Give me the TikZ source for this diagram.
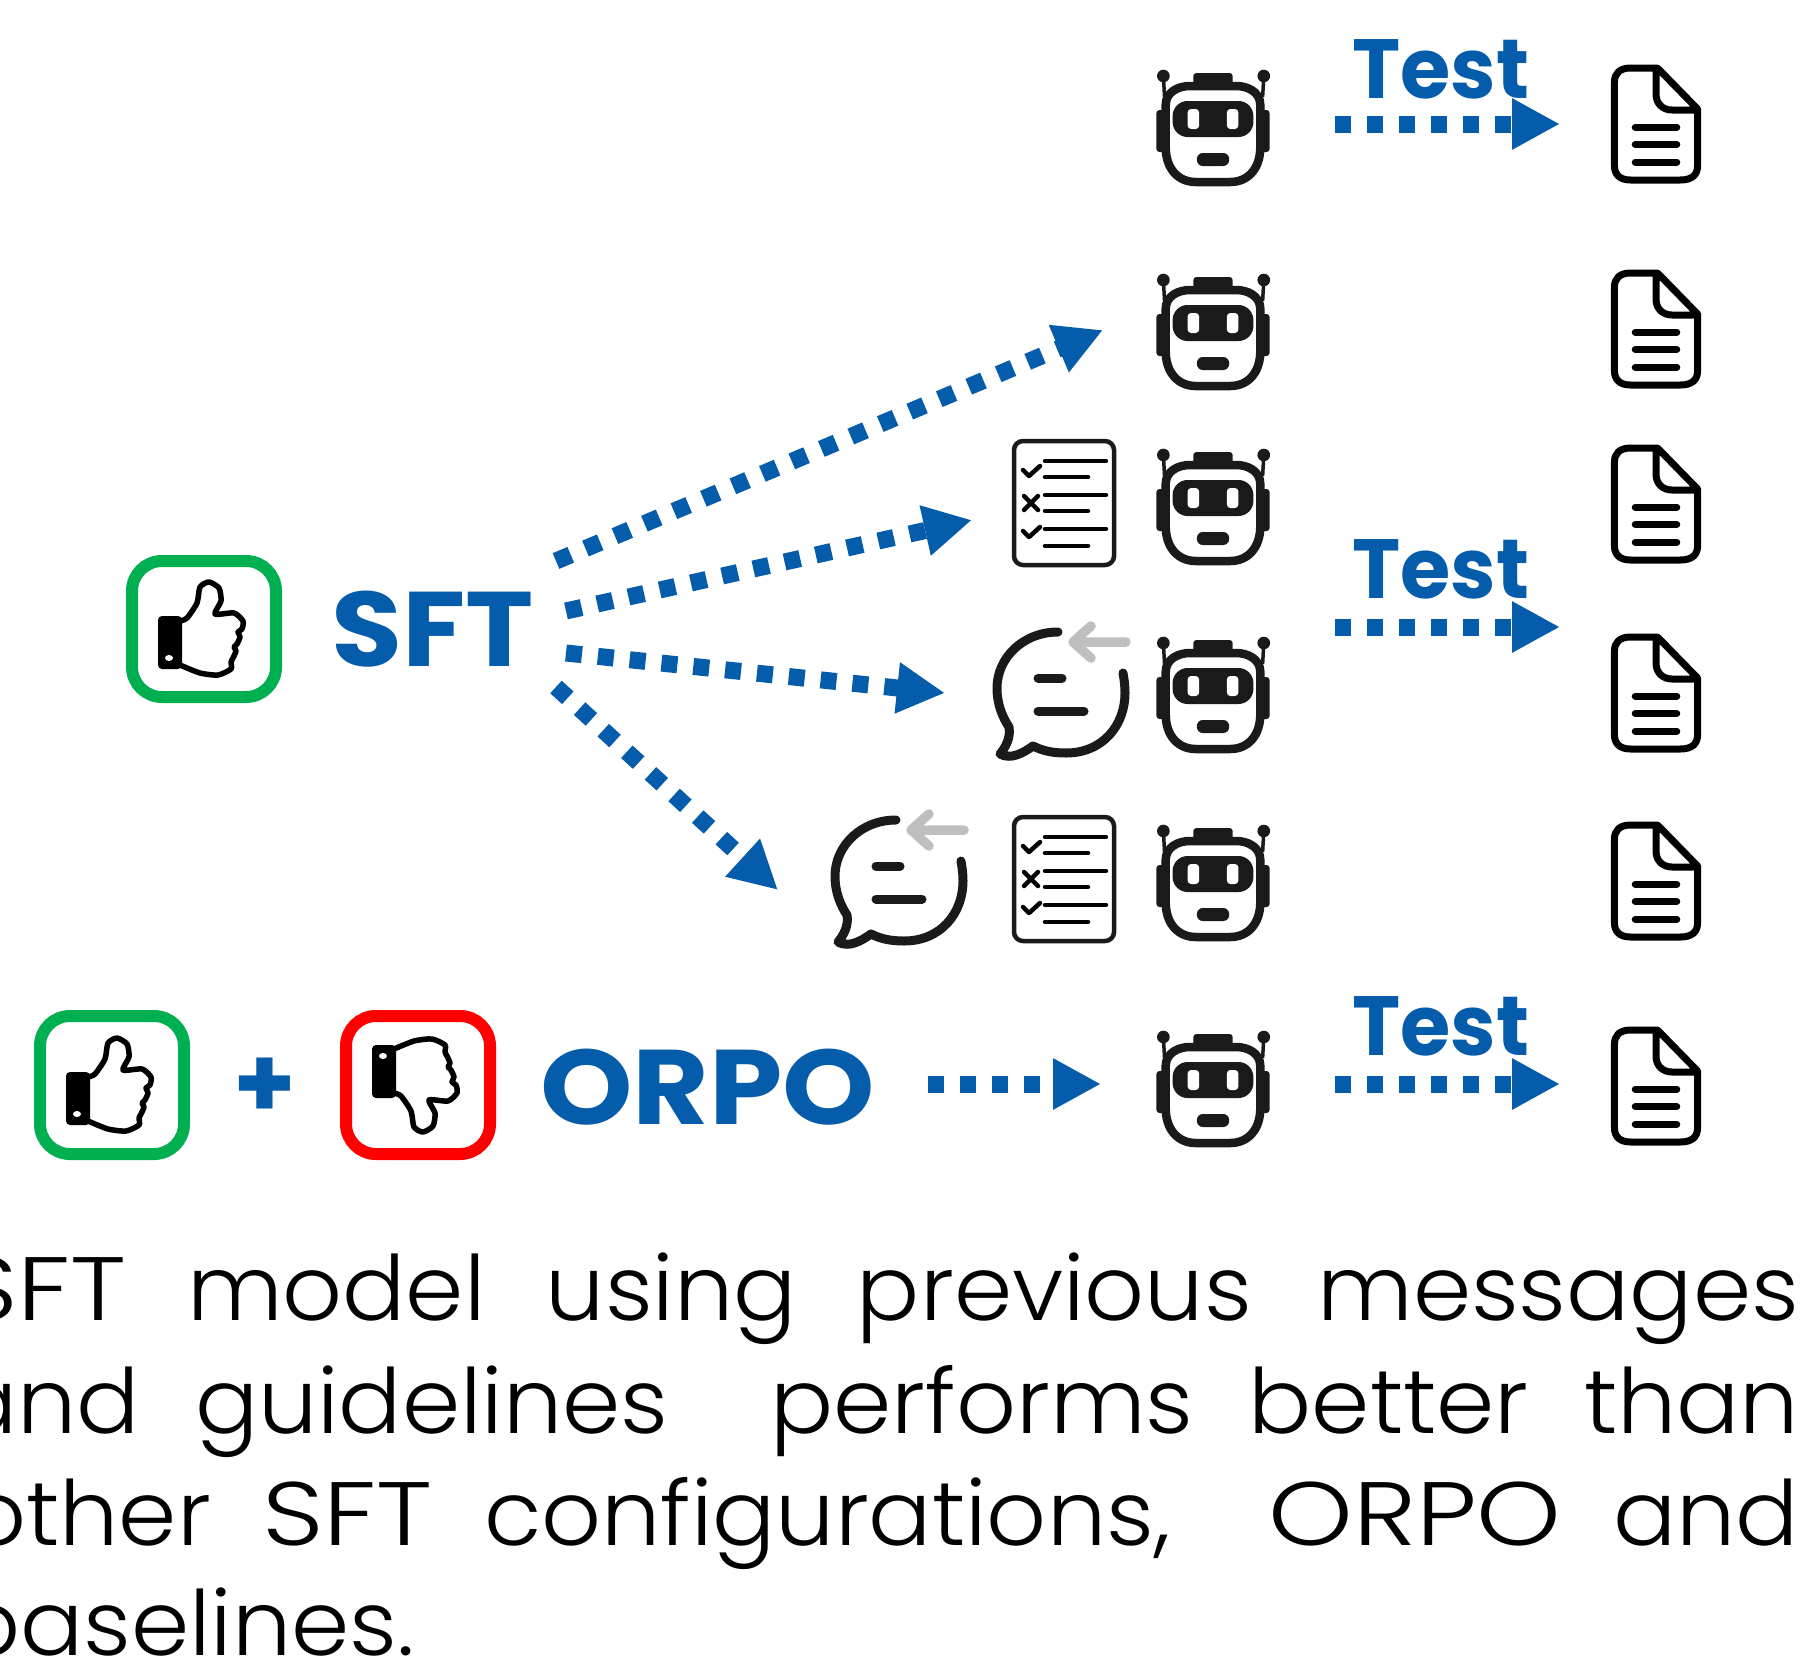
\documentclass[tikz,border=0pt]{standalone}
\usepackage{fontspec}
\usepackage{graphicx}
\usetikzlibrary{arrows.meta}
\setmainfont{Poppins}
\newfontfamily\capfont{Poppins Light}
\newfontfamily\boldfont{Poppins Bold}
\definecolor{blu}{HTML}{045CAB}
\definecolor{ink}{HTML}{1A1A1A}
\definecolor{grn}{HTML}{00B050}
\definecolor{gry}{HTML}{BFBFBF}
\newcommand{\wide}[1]{\scalebox{1.15}[1]{#1}}
\newcommand{\thumbbody}{%
  \fill[black,rounded corners=4pt] (-46,-13) rectangle (-22,40);
  \fill[white] (-35,29) ellipse [x radius=4,y radius=3];
  \draw[black,line width=5.5pt,line join=round] plot[smooth,tension=.4] coordinates {(-24,-8) (-17,-11) (-7,-26) (-4,-42) (5,-47) (15,-41) (17,-28) (11,-15) (30,-16) (39,-8) (38,0) (34,3) (36,8) (33,15) (30,18) (32,22) (29,29) (27,33) (27,40) (14,46) (-4,44) (-24,36)};
}
\tikzset{
 x=1pt,y=-1pt,
 flow/.style={draw=blu,line width=17pt,dash pattern=on 16pt off 16pt,-{Triangle[length=48pt,width=48pt,fill=blu]}},
 boxg/.style={draw=grn,line width=12pt,rounded corners=30pt},
 boxr/.style={draw=red,line width=12pt,rounded corners=30pt},
 lab/.style={text=blu,inner sep=0pt,font=\boldfont\fontsize{84}{90}\selectfont},
 big/.style={text=blu,inner sep=0pt,font=\boldfont\fontsize{106}{110}\selectfont},
 captext/.style={anchor=base west,inner sep=0pt,font=\capfont\fontsize{90}{100}\selectfont},
 robot/.pic={
  \begin{scope}[xscale=1.154]
  \draw[ink,line width=3.5pt] (-42,-30) -- (-43,-51) (43,-30) -- (44,-51);
  \fill[ink] (-43,-51) ellipse [x radius=5.5,y radius=6.3] (44,-51) ellipse [x radius=5.5,y radius=6.3];
  \fill[ink,rounded corners=3pt] (-17,-54) rectangle (17,-40);
  \fill[ink,rounded corners=3pt] (-49,-17) rectangle (-38,25) (38,-17) rectangle (49,25);
  \draw[ink,fill=white,line width=8.5pt] (-41,20) -- (-41,-22) .. controls (-41,-35) and (-30,-41) .. (-20,-41) -- (20,-41) .. controls (30,-41) and (41,-35) .. (41,-22) -- (41,20) .. controls (41,42) and (30,55) .. (15,55) -- (-15,55) .. controls (-30,55) and (-41,42) .. (-41,20) -- cycle;
  \fill[ink,rounded corners=15pt] (-35,-26) rectangle (35,10);
  \fill[white,rounded corners=3.5pt] (-22,-18) rectangle (-12,2) (12,-18) rectangle (22,2);
  \fill[ink,rounded corners=6pt] (-14,26) rectangle (14,39);
  \end{scope}
 },
 docu/.pic={
  \begin{scope}[xscale=1.154,line width=7pt,line cap=round,line join=round]
  \draw[black] (0,-56) -- (-22,-56) .. controls (-32,-56) and (-36,-50) .. (-36,-42) -- (-36,42) .. controls (-36,51) and (-31,56) .. (-22,56) -- (21,56) .. controls (31,56) and (36,51) .. (36,42) -- (36,-15) -- (3,-54) .. controls (2,-56) and (1,-56) .. (0,-56) -- (0,-30) .. controls (0,-20) and (6,-14) .. (14,-14) -- (36,-14);
  \draw[black] (-18,3) -- (18,3) (-18,20.5) -- (18,20.5) (-18,38) -- (18,38);
  \end{scope}
 },
 checks/.pic={
  \draw[ink,line width=4.5pt,rounded corners=9pt] (-50,-62) rectangle (50,62);
  \begin{scope}[line width=4.5pt,line cap=round,line join=round,black]
  \draw (-19,-42) -- (42,-42) (-19,-26) -- (24,-26) (-19,-8) -- (42,-8) (-19,8) -- (24,8) (-19,26) -- (42,26) (-19,43) -- (24,43);
  \draw (-41,-33) -- (-35,-27) -- (-24,-37);
  \draw (-41,28) -- (-35,34) -- (-24,24);
  \draw (-40,-7) -- (-26,7) (-26,-7) -- (-40,7);
  \end{scope}
 },
 chat/.pic={
  \draw[ink,line width=9pt,line cap=round,line join=round] (-3,-61) .. controls (-38,-61) and (-64,-35) .. (-64,-5) .. controls (-64,12) and (-58,25) .. (-52,34) .. controls (-50,45) and (-56,55) .. (-61,61) .. controls (-50,67) and (-38,60) .. (-28,53) .. controls (-18,58) and (-8,60) .. (5,60) .. controls (42,60) and (64,32) .. (64,0) .. controls (64,-8) and (63,-14) .. (62,-20);
  \draw[ink,line width=9pt,line cap=round] (-23,-15) -- (1,-15) (-23,18) -- (23,18);
  \draw[gry,line width=9.5pt,line cap=round,line join=round] (65,-51) -- (12,-51) (30,-67) -- (12,-51) -- (30,-35);
 },
 thumbup/.pic={\thumbbody},
 thumbdown/.pic={\begin{scope}[yscale=-1]\thumbbody\end{scope}},
}
\begin{document}
\begin{tikzpicture}
\path[use as bounding box] (0,0) rectangle (1808,1663);
\clip (0,0) rectangle (1808,1663);
% icons
\pic (r1) at (1213,127) {robot};
\pic (r2) at (1213,331) {robot};
\pic (r3) at (1213,506) {robot};
\pic (r4) at (1213,694) {robot};
\pic (r5) at (1213,882) {robot};
\pic (r6) at (1213,1088) {robot};
\pic (d1) at (1656,124) {docu};
\pic (d2) at (1656,329) {docu};
\pic (d3) at (1656,504) {docu};
\pic (d4) at (1656,693) {docu};
\pic (d5) at (1656,881) {docu};
\pic (d6) at (1656,1086) {docu};
\pic (c1) at (1064,503) {checks};
\pic (c2) at (1064,879) {checks};
\pic (m1) at (1061,693) {chat};
\pic (m2) at (899,881) {chat};
% thumbs
\draw[boxg] (132,561) rectangle (276,697);
\draw[boxg] (40,1016) rectangle (184,1154);
\draw[boxr] (346,1016) rectangle (490,1154);
\pic (t1) at (204,629) {thumbup};
\pic (t2) at (112,1085) {thumbup};
\pic (t3) at (418,1085) {thumbdown};
% labels
\node[big,anchor=base west] (sft) at (331,666) {\scalebox{1.09}[1]{SFT}};
\node[big,anchor=base west] (orpo) at (540,1124) {\scalebox{1.11}[1]{ORPO}};
\node[big,font=\boldfont\fontsize{100}{100}\selectfont] (plus) at (265,1088) {+};
\node[lab,anchor=base west] (test1) at (1352,98) {\scalebox{.97}[1]{Test}};
\node[lab,anchor=base west] (test2) at (1352,598) {\scalebox{.97}[1]{Test}};
\node[lab,anchor=base west] (test3) at (1352,1055) {\scalebox{.97}[1]{Test}};
% arrow ends
\coordinate (a1) at (556,561); \coordinate (b1) at (1103,330);
\coordinate (a2) at (566,611); \coordinate (b2) at (972,520);
\coordinate (a3) at (566,653); \coordinate (b3) at (945,693);
\coordinate (a4) at (556,687); \coordinate (b4) at (778,890);
\coordinate (a5) at (928,1084); \coordinate (b5) at (1101,1084);
\coordinate (a6) at (1335,124); \coordinate (b6) at (1560,124);
\coordinate (a7) at (1335,627); \coordinate (b7) at (1560,627);
\coordinate (a8) at (1335,1084); \coordinate (b8) at (1560,1084);
\draw[flow] (a1) -- (b1);
\draw[flow] (a2) -- (b2);
\draw[flow] (a3) -- (b3);
\draw[flow] (a4) -- (b4);
\draw[flow] (a5) -- (b5);
\draw[flow] (a6) -- (b6);
\draw[flow] (a7) -- (b7);
\draw[flow] (a8) -- (b8);
% caption
\node[captext] (l1) at (-44,1320) {\scalebox{1.04}[1]{\hbox to 1772pt{\wide{SFT}\hfill model\hfill using\hfill previous\hskip 5pt\hfill messages}}};
\node[captext] (l2) at (-46,1433) {\scalebox{1.04}[1]{\hbox to 1774pt{and\hfill guidelines\hfill\hskip 45pt performs\hfill better\hfill than}}};
\node[captext] (l3) at (-34,1545) {\scalebox{1.04}[1]{\hbox to 1762pt{other\hfill \wide{SFT}\hfill configurations,\hfill\hskip 45pt \wide{ORPO}\hfill and}}};
\node[captext] (l4) at (-43,1655) {\scalebox{1.04}[1]{baselines.}};
\end{tikzpicture}
\end{document}
